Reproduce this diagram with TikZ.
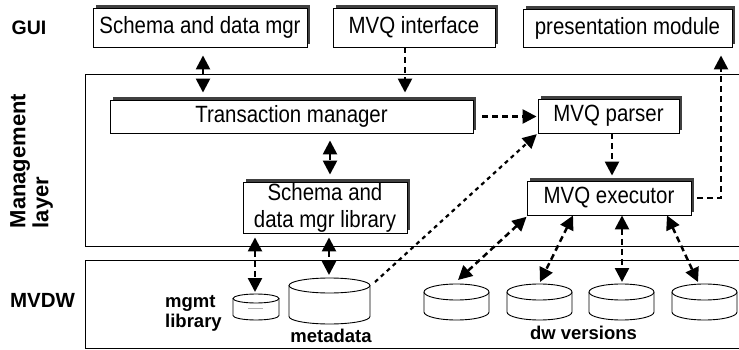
\documentclass[tikz,border=0pt]{standalone}
\usepackage{fontspec}
\setmainfont{Liberation Sans}
\newfontfamily\boxfont[FakeStretch=0.87]{Liberation Sans}
\usetikzlibrary{arrows.meta,shadows,calc}
\newcommand\dbcyl[5]{%
  \draw[cyl] ({#1-#4},#2) -- ({#1-#4},#3) arc[start angle=180,end angle=0,x radius=#4,y radius=#5] -- ({#1+#4},#2);
  \draw[cyl] (#1,#2) ellipse[x radius=#4, y radius=#5];
}
\begin{document}
\begin{tikzpicture}[x=1pt,y=-1pt,
  box/.style={draw, line width=0.9pt, fill=white, align=center, inner sep=0pt,
    font=\boxfont\fontsize{23.5}{27}\selectfont,
    drop shadow={shadow xshift=3pt, shadow yshift=3pt, fill=black!75, opacity=1}},
  conn/.style={line width=2.5pt, dash pattern=on 6pt off 4pt, -{Triangle[length=14pt,width=14pt]}},
  both/.style={line width=2.5pt, dash pattern=on 6pt off 4pt, {Triangle[length=14pt,width=14pt]}-{Triangle[length=14pt,width=14pt]}},
  layer/.style={line width=1pt},
  cyl/.style={draw, line width=0.9pt, fill=white}
]
\useasboundingbox (0,0) rectangle (739,350);

% layers
\draw[layer] (740,75) -- (85,75) -- (85,246) -- (740,246);
\draw[layer] (740,260) -- (85,260) -- (85,348) -- (740,348);

% side labels
\node[font=\bfseries\fontsize{19.5}{22}\selectfont] (lgui) at (29,28) {GUI};
\node[rotate=90, align=left, inner sep=0pt, font=\bfseries\fontsize{22}{23}\selectfont] (lml) at (31.5,161) {Management\\layer};
\node[font=\bfseries\fontsize{20.5}{22}\selectfont] (lmvdw) at (42.5,300) {MVDW};

% boxes
\node[box, minimum width=214pt, minimum height=39pt] (gui1) at (200,27.5) {Schema and data mgr};
\node[box, minimum width=162pt, minimum height=39pt] (gui2) at (414,27.5) {MVQ interface};
\node[box, minimum width=209pt, minimum height=38pt] (gui3) at (627.5,28) {presentation module};
\node[box, minimum width=363pt, minimum height=33pt] (tm) at (291.5,116.5) {Transaction manager};
\node[box, minimum width=141pt, minimum height=34pt] (parser) at (608.5,116) {MVQ parser};
\node[box, minimum width=164pt, minimum height=51pt] (lib) at (325,207.5) {Schema and\\data mgr library};
\node[box, minimum width=164pt, minimum height=34pt] (exec) at (609,198) {MVQ executor};

% cylinders
\dbcyl{256}{298.5}{315.5}{23}{4.5}
\draw[black!30, line width=0.8pt] (248,308) -- (263,308);
\dbcyl{329.5}{285.5}{316.5}{40.5}{7.5}
\dbcyl{456.5}{292}{312}{32.5}{8}
\dbcyl{539.5}{292}{312}{32.5}{8}
\dbcyl{621.5}{292}{312}{32.5}{8}
\dbcyl{704.5}{292}{312}{32.5}{8}

% cylinder labels
\node[align=left, anchor=west, inner sep=0pt, font=\bfseries\fontsize{18.5}{20}\selectfont] (lmgmt) at (165,313) {mgmt\\library};
\node[font=\bfseries\fontsize{18.5}{20}\selectfont] (lmeta) at (331,336) {metadata};
\node[font=\bfseries\fontsize{18.5}{20}\selectfont] (ldw) at (583.5,333) {dw versions};

% coordinates
\coordinate (c1) at (203,0);
\coordinate (c2) at (405,0);
\coordinate (c4) at (612,0);
\coordinate (c5) at (721,0);
\coordinate (c6) at (330,0);
\coordinate (mgmtTop) at (255,292);
\coordinate (metaTop) at (329,275);
\coordinate (metaR) at (375,282);
\coordinate (dw1) at (458,280);
\coordinate (dw2) at (540,282);
\coordinate (dw3) at (622,282);
\coordinate (dw4) at (698,282);

% connectors
\draw[both, shorten <=8pt, shorten >=7pt] (gui1.south -| c1) -- (tm.north -| c1);
\draw[conn, shorten >=7pt] (gui2.south -| c2) -- (tm.north -| c2);
\draw[conn, shorten <=9pt, shorten >=1pt] (tm.east) -- (tm.east -| parser.west);
\draw[conn, shorten >=5pt] (parser.south -| c4) -- (exec.north -| c4);
\draw[conn, shorten <=6pt, shorten >=8pt] (exec.east) -| (gui3.south -| c5);
\draw[both, shorten <=7pt, shorten >=7pt] (tm.south -| c6) -- (lib.north -| c6);
\draw[both, shorten <=4pt] (lib.south -| mgmtTop) -- (mgmtTop);
\draw[both, shorten <=4pt] (lib.south -| metaTop) -- (metaTop);
\draw[conn, line width=2.2pt, dash pattern=on 4pt off 4pt, shorten >=1pt] (metaR) -- (parser.south west);
\draw[both, shorten <=2pt] ([xshift=-81pt]exec.south) -- (dw1);
\draw[both] ([xshift=-36pt]exec.south) -- (dw2);
\draw[both] ([xshift=13pt]exec.south) -- (dw3);
\draw[both] ([xshift=58pt]exec.south) -- (dw4);
\end{tikzpicture}
\end{document}
